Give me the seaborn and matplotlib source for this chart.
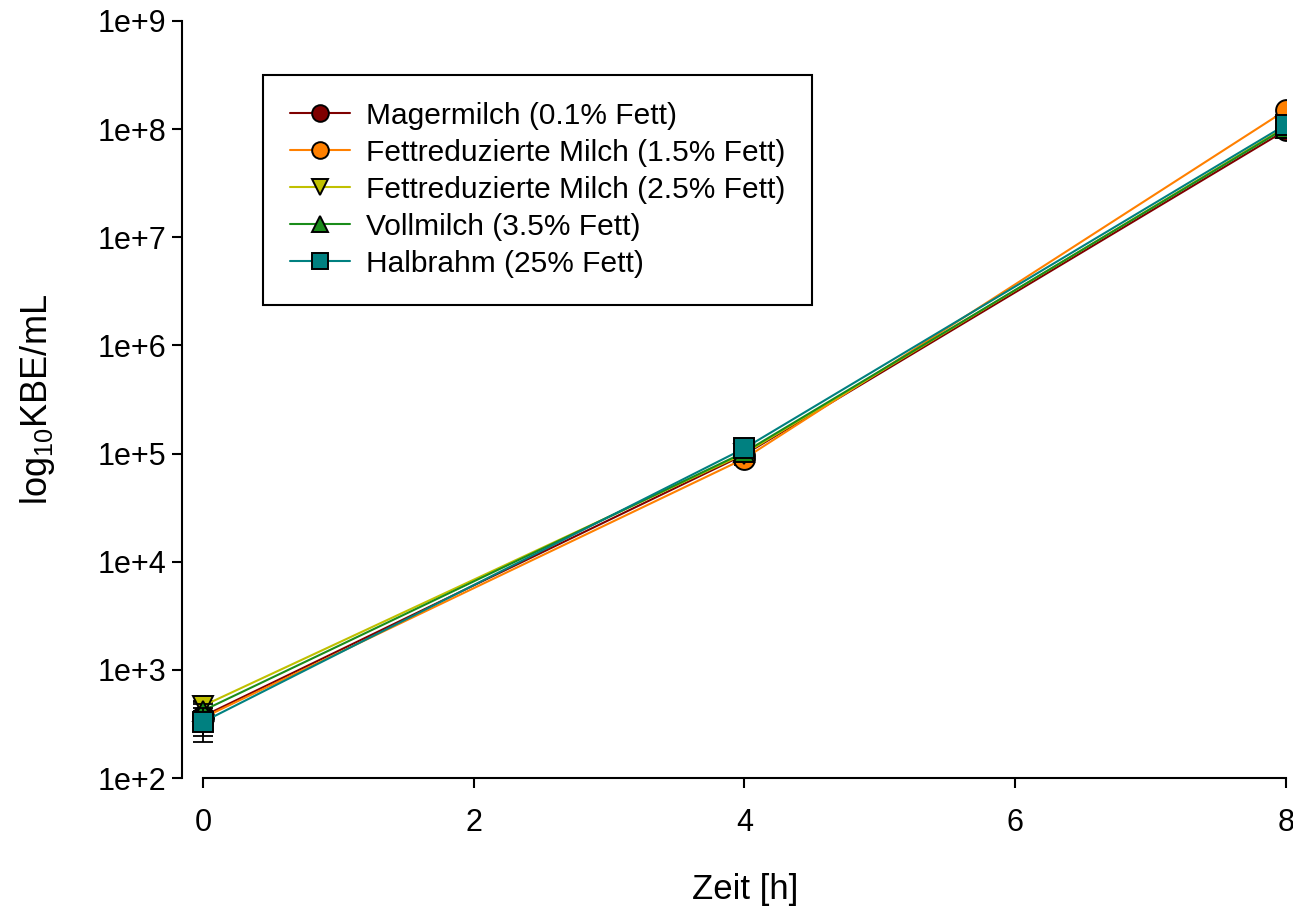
import numpy as np
import pandas as pd
import seaborn as sns
import matplotlib.pyplot as plt
from matplotlib.ticker import FixedLocator, FuncFormatter, NullLocator

sns.set_theme(style="ticks")
plt.rcParams['font.family'] = ['Liberation Sans', 'DejaVu Sans']
plt.rcParams['mathtext.fontset'] = 'custom'
plt.rcParams['mathtext.rm'] = 'Liberation Sans'
plt.rcParams['mathtext.it'] = 'Liberation Sans'
plt.rcParams['text.color'] = 'black'

# time points (h)
zeit = [0, 4, 8]

# KBE/mL per milk type (mean) and standard deviation
labels = ['Magermilch (0.1% Fett)',
          'Fettreduzierte Milch (1.5% Fett)',
          'Fettreduzierte Milch (2.5% Fett)',
          'Vollmilch (3.5% Fett)',
          'Halbrahm (25% Fett)']
mager = [372, 9.8e4, 9.8e7]
fett15 = [360, 9.0e4, 1.5e8]
fett25 = [465, 1.0e5, 1.05e8]
voll = [420, 1.03e5, 1.03e8]
halb = [330, 1.12e5, 1.1e8]

mager_sd = [130, 1.0e4, 5e6]
fett15_sd = [60, 1.1e4, 1e7]
fett25_sd = [50, 8e3, 5e6]
voll_sd = [60, 8e3, 5e6]
halb_sd = [115, 1.0e4, 8e6]

colors = ['#7f0000', '#ff8000', '#c0c000', '#1a8c1a', '#008080']
markers = ['o', 'o', 'v', '^', 's']

means = [mager, fett15, fett25, voll, halb]
sds = [mager_sd, fett15_sd, fett25_sd, voll_sd, halb_sd]

fig = plt.figure(figsize=(12.93, 9.09), dpi=100)
ax = fig.add_axes([182 / 1293, 1 - 778 / 909, 1104 / 1293, 757 / 909])

for lab, m, s, c, mk in zip(labels, means, sds, colors, markers):
    df = pd.DataFrame({'Zeit': zeit, 'KBE': m})
    ax.errorbar(zeit, m, yerr=s, fmt='none', ecolor='black',
                elinewidth=1.3, capsize=7, capthick=1.3)
    sns.lineplot(data=df, x='Zeit', y='KBE', ax=ax, color=c, marker=mk,
                 markersize=15, markeredgecolor='black', markeredgewidth=1.4,
                 linewidth=1.5, label=lab)

ax.set_yscale('log')
ax.set_ylim(1e2, 1e9)
ax.set_xlim(-0.155, 8)
ax.yaxis.set_major_locator(FixedLocator([10.0 ** k for k in range(2, 10)]))
ax.yaxis.set_minor_locator(NullLocator())
ax.yaxis.set_major_formatter(FuncFormatter(lambda v, p: '1e+%d' % round(np.log10(v))))
ax.set_xticks([0, 2, 4, 6, 8])

for sp in ['top', 'right']:
    ax.spines[sp].set_visible(False)
ax.spines['bottom'].set_bounds(0, 8)
for sp in ['left', 'bottom']:
    ax.spines[sp].set_linewidth(1.5)
    ax.spines[sp].set_color('black')

ax.tick_params(axis='both', which='major', length=7.5, width=1.5,
               labelsize=22, colors='black')
ax.tick_params(axis='x', pad=14)
ax.tick_params(axis='y', pad=4)

ax.set_xlabel('Zeit [h]', fontsize=25, color='black')
ax.set_ylabel('log$_{10}$KBE/mL', fontsize=26, color='black')
ax.xaxis.set_label_coords(0.51, -0.126)
ax.yaxis.set_label_coords(-0.113, 0.5)

leg = ax.legend(loc='upper left', bbox_to_anchor=(0.0734, 0.9287),
                borderaxespad=0, fontsize=21.5, frameon=True, fancybox=False,
                framealpha=1, edgecolor='black', borderpad=0.9,
                labelspacing=0.3, handlelength=2.0, handletextpad=0.55)
leg.get_frame().set_linewidth(1.5)
for h in leg.legend_handles:
    h.set_markersize(12)
for t in leg.get_texts():
    t.set_color('black')

fig.savefig('out.png', dpi=100)
